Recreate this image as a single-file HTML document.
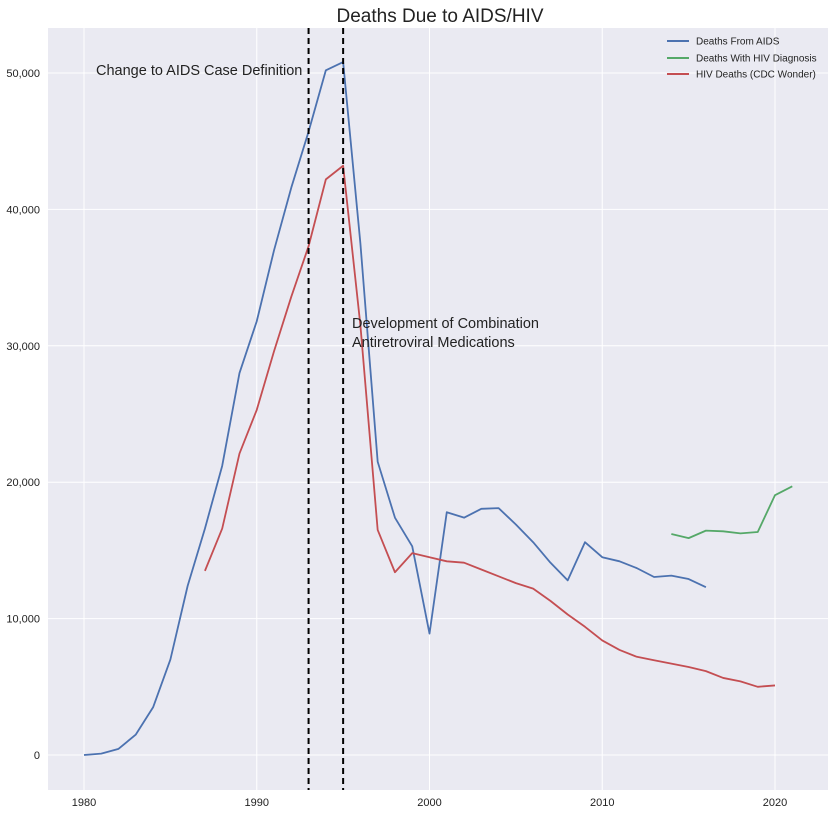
<!DOCTYPE html>
<html><head><meta charset="utf-8"><style>
body{margin:0;background:#fff;}
svg{display:block;font-family:"Liberation Sans",sans-serif;}
</style></head><body>
<svg id="chart" width="836" height="814" viewBox="0 0 836 814"></svg>
<script>
const years = [1980,1981,1982,1983,1984,1985,1986,1987,1988,1989,1990,1991,1992,1993,1994,1995,1996,1997,1998,1999,2000,2001,2002,2003,2004,2005,2006,2007,2008,2009,2010,2011,2012,2013,2014,2015,2016];
const aidsDeaths = [0,100,450,1500,3500,7000,12400,16600,21200,28000,31800,37000,41600,45700,50200,50800,37500,21500,17400,15300,8900,17800,17400,18050,18100,16900,15600,14100,12800,15600,14500,14200,13700,13050,13150,12900,12300];
const hivDiagYears = [2014,2015,2016,2017,2018,2019,2020,2021];
const hivDiagDeaths = [16200,15900,16450,16400,16250,16350,19050,19700];
const cdcYears = [1987,1988,1989,1990,1991,1992,1993,1994,1995,1996,1997,1998,1999,2000,2001,2002,2003,2004,2005,2006,2007,2008,2009,2010,2011,2012,2013,2014,2015,2016,2017,2018,2019,2020];
const cdcDeaths = [13500,16600,22100,25300,29600,33600,37300,42200,43200,31500,16500,13400,14800,14500,14200,14100,13600,13100,12600,12200,11300,10300,9400,8400,7700,7200,6950,6700,6450,6150,5650,5400,5000,5100];
const xTicks = [1980,1990,2000,2010,2020];
const yTicks = [0,10000,20000,30000,40000,50000];
const vLines = [1993,1995];

const NS="http://www.w3.org/2000/svg";
const svg=document.getElementById('chart');
const L=48,R=828,T=28,B=790;
const X=v=>84+(v-1980)*(775-84)/40;
const Y=v=>755-v*(755-73)/50000;
function mk(t,a,p){const e=document.createElementNS(NS,t);for(const k in a)e.setAttribute(k,a[k]);(p||svg).appendChild(e);return e;}
const bg=mk('rect',{x:L,y:T,width:R-L,height:B-T,fill:'#eaeaf2'});


xTicks.forEach(t=>{
  const g=mk('line',{x1:X(t),x2:X(t),y1:T,y2:B,stroke:'#fff','stroke-width':1});
  
  
  const tx=mk('text',{x:X(t),y:806,'text-anchor':'middle','font-size':11,fill:'#222'});
  tx.textContent=t;
  
  
});
yTicks.forEach(t=>{
  const g=mk('line',{x1:L,x2:R,y1:Y(t),y2:Y(t),stroke:'#fff','stroke-width':1});
  
  
  const tx=mk('text',{x:40,y:Y(t)+4,'text-anchor':'end','font-size':11,fill:'#222'});
  tx.textContent=t.toLocaleString('en-US');
  
  
});
function series(xs,ys,col,name){
  const p=mk('polyline',{points:xs.map((x,i)=>X(x)+','+Y(ys[i])).join(' '),fill:'none',stroke:col,'stroke-width':1.8,'stroke-linejoin':'round'});
  
  
}
series(years,aidsDeaths,'#4c72b0','line-deaths-from-aids');
series(hivDiagYears,hivDiagDeaths,'#55a868','line-deaths-with-hiv-diagnosis');
series(cdcYears,cdcDeaths,'#c44e52','line-hiv-deaths-cdc');
vLines.forEach(v=>{
  const l=mk('line',{x1:X(v),x2:X(v),y1:T,y2:B,stroke:'#000','stroke-width':2,'stroke-dasharray':'6,4'});
  
  
});
</script>
<svg style="position:absolute;left:0;top:0" width="836" height="814">
<text x="440" y="22" text-anchor="middle" font-size="19" fill="#222" font-family="Liberation Sans, sans-serif">Deaths Due to AIDS/HIV</text>
<text x="96" y="75" font-size="14.5" fill="#222" font-family="Liberation Sans, sans-serif">Change to AIDS Case Definition</text>
<text x="352" y="328" font-size="14.5" fill="#222" font-family="Liberation Sans, sans-serif">Development of Combination</text>
<text x="352" y="347" font-size="14.5" fill="#222" font-family="Liberation Sans, sans-serif">Antiretroviral Medications</text>
<g font-size="10" fill="#222" font-family="Liberation Sans, sans-serif">
<line x1="667" x2="689" y1="41" y2="41" stroke="#4c72b0" stroke-width="2"/><text x="696" y="44.5">Deaths From AIDS</text>
<line x1="667" x2="689" y1="58" y2="58" stroke="#55a868" stroke-width="2"/><text x="696" y="61.5">Deaths With HIV Diagnosis</text>
<line x1="667" x2="689" y1="74" y2="74" stroke="#c44e52" stroke-width="2"/><text x="696" y="77.5">HIV Deaths (CDC Wonder)</text>
</g>
</svg>
</body></html>
